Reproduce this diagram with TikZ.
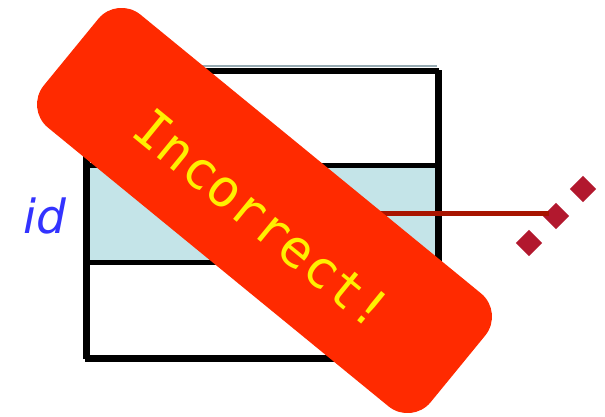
\documentclass[tikz,border=0pt]{standalone}
\usepackage{fontspec}
\newfontfamily\comicfont{DejaVu Sans Mono}
\newfontfamily\labelfont{DejaVu Sans}
\definecolor{rowblue}{RGB}{196,228,232}
\definecolor{bandred}{RGB}{255,42,0}
\definecolor{bandyellow}{RGB}{255,240,0}
\definecolor{linkred}{RGB}{168,20,0}
\definecolor{gndred}{RGB}{178,24,46}
\definecolor{idblue}{RGB}{51,51,255}
\definecolor{shadowgray}{RGB}{150,170,178}
\tikzset{
  rowbox/.style={draw=black, line width=4.5pt, minimum width=352pt, minimum height=97pt, inner sep=0pt, anchor=north west},
  gnd/.style={fill=gndred, draw=none, minimum size=18.5pt, inner sep=0pt, rotate=45},
  link/.style={draw=linkred, line width=5pt},
}
\begin{document}
\begin{tikzpicture}[x=1pt,y=-1pt]
\useasboundingbox (0,0) rectangle (605,417);
% faint shadow line above the box
\draw[shadowgray, line width=2pt] (85,66) -- (437,66);
% stacked rows
\node[rowbox, fill=white] (top) at (85,70) {};
\node[rowbox, fill=rowblue] (mid) at (85,163) {};
\node[rowbox, fill=white] (bot) at (85,260) {};
\draw[line width=4.5pt] (85,70) rectangle (437,357);
% label
\node[text=idblue, font=\labelfont\itshape\fontsize{47}{52}\selectfont, anchor=base] (id) at (45,233) {id};
% ground-like diamonds
\node[gnd] (g1) at (529,243) {};
\node[gnd] (g2) at (556,216) {};
\node[gnd] (g3) at (583,189) {};
\coordinate (start) at (261,213.5);
\draw[link] (start) -- (start -| g2.west);
% the red band
\begin{scope}[shift={(264.5,210.5)}, rotate=-39.3]
  \fill[bandred, rounded corners=30pt] (-250,-73) rectangle (250,73);
  \node[transform shape, text=bandyellow, font=\comicfont\fontsize{52}{56}\selectfont, inner sep=0pt] (inc) at (4,8) {Incorrect!};
\end{scope}
\end{tikzpicture}
\end{document}
